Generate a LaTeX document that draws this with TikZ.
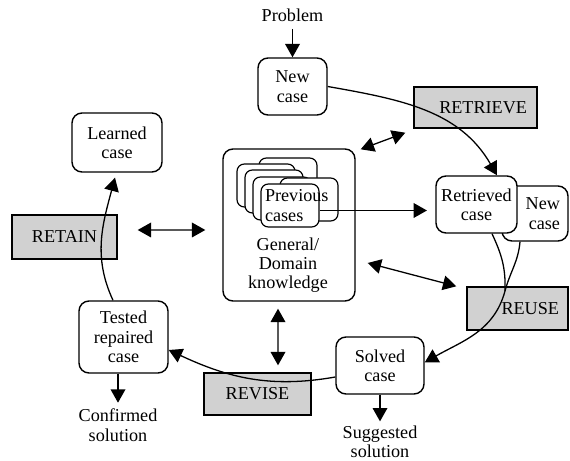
\documentclass[tikz,border=0pt]{standalone}
\usepackage{fontspec}
\setmainfont{Liberation Serif}
\usetikzlibrary{arrows.meta,positioning}

\tikzset{
  casebox/.style={draw, rounded corners=0.3cm, fill=white, align=center, line width=1.2pt, inner sep=0.1cm},
  phase/.style={draw, fill=black!18, line width=1.2pt, inner sep=0},
  card/.style={draw, rounded corners=0.22cm, fill=white, line width=1pt, minimum width=1.74cm, minimum height=1.29cm},
  txt/.style={align=center, inner sep=0},
  arr/.style={-{Triangle[length=0.4cm,width=0.44cm]}, line width=1.1pt},
  dbl/.style={{Triangle[length=0.4cm,width=0.44cm]}-{Triangle[length=0.4cm,width=0.44cm]}, line width=1.1pt}
}

\begin{document}
\begin{tikzpicture}[x=0.03cm,y=0.03cm,font=\fontsize{15.5}{16.5}\selectfont,node distance=1.05cm]
        \useasboundingbox (0,0) rectangle (570,461);
        \node[casebox, minimum width=2.07cm, minimum height=1.71cm] (newcase) at (292.5,374.5) {New\\case};
        \node[txt] (problem) [above=of newcase] {Problem};
        \node[phase, minimum width=3.69cm, minimum height=1.23cm, text width=3.09cm, align=right, inner xsep=0.3cm] (retrieve) at (475.5,353.5) {RETRIEVE};
        \node[casebox, minimum width=3.96cm, minimum height=4.56cm] (knowledge) at (289,236) {};
        \node[card] (cardtop) at (288,281.5) {};
        \node[card] (cardc) at (266,275.5) {};
        \node[card] (cardb) at (274,269.5) {};
        \node[card] (carda) at (282,262.5) {};
        \node[card] (cardright) at (309,261.5) {};
        \node[card, text width=1.5cm, align=left, inner xsep=0.12cm] (prevcases) at (290,255.5) {Previous\\cases};
        \node[txt] (gdk) at (288,196) {General/\\Domain\\knowledge};
        \node[casebox, minimum width=1.98cm, minimum height=1.65cm, text width=1.5cm, align=right, inner xsep=0.24cm] (newcasetwo) at (535,247.5) {New\\case};
        \node[casebox, minimum width=2.43cm, minimum height=1.71cm] (retrieved) at (476.5,256.5) {Retrieved\\case};
        \node[phase, minimum width=3.03cm, minimum height=1.29cm, text width=2.49cm, align=right, inner xsep=0.27cm] (reuse) at (517.5,152.5) {REUSE};
        \node[casebox, minimum width=2.64cm, minimum height=1.71cm] (solved) at (380,95.5) {Solved\\case};
        \node[txt] (suggested) [below=0.92cm of solved] {Suggested\\solution};
        \node[phase, minimum width=3.21cm, minimum height=1.26cm] (revise) at (257.5,67) {REVISE};
        \node[casebox, minimum width=2.67cm, minimum height=2.16cm] (tested) at (123.5,124) {Tested\\repaired\\case};
        \node[txt, xshift=-0.165cm] (confirmed) [below=of tested] {Confirmed\\solution};
        \node[casebox, minimum width=2.7cm, minimum height=1.77cm] (learned) at (117,318.5) {Learned\\case};
        \node[phase, minimum width=3.15cm, minimum height=1.32cm] (retain) at (64.5,224) {RETAIN};
        \coordinate (rin) at ([yshift=-0.18cm]retrieved.west);
        \coordinate (merge) at (505,170);
        \path[arr]
        (problem) edge [shorten <=0.2cm] (newcase)
        (tested.south -| confirmed) edge [shorten >=0.18cm] (confirmed)
        (solved) edge [shorten >=0.12cm] (suggested)
        (prevcases.east |- rin) edge [shorten >=0.25cm] (rin)
        ;
        \path[dbl]
        ([xshift=0.15cm,yshift=-0.03cm]knowledge.north east) edge ([xshift=-0.24cm,yshift=-0.12cm]retrieve.south west)
        ([xshift=0.6cm,yshift=0.21cm]retain.east) edge ([xshift=-0.51cm,yshift=-0.15cm]knowledge.west)
        ([xshift=0.36cm,yshift=-1.14cm]knowledge.east) edge ([xshift=-0.3cm]reuse.north west)
        ([xshift=-0.33cm,yshift=-0.21cm]knowledge.south) edge ([xshift=0.615cm,yshift=0.21cm]revise.north)
        ;
        \draw[arr] (newcase.east) to[out=-10,in=120] ([xshift=0.615cm]retrieved.north);
        \draw[line width=1.1pt] ([xshift=0.465cm]retrieved.south) to[out=-65,in=88] (merge);
        \draw[arr] ([xshift=-0.45cm]newcasetwo.south) to[out=-95,in=75] (merge) to[out=-105,in=30] ([yshift=0.09cm]solved.east);
        \draw[arr] ([yshift=-0.345cm]solved.west) to[out=190,in=-25] ([yshift=-0.39cm]tested.east);
        \draw[arr] ([xshift=-0.315cm]tested.north) to[out=115,in=-105] ([xshift=-0.06cm,yshift=-0.15cm]learned.south);
\end{tikzpicture}
\end{document}
